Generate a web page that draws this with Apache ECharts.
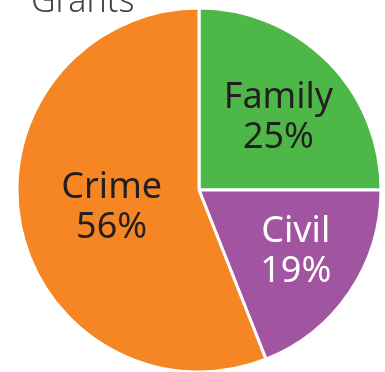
<!DOCTYPE html>
<html>
<head>
<meta charset="utf-8">
<script src="https://cdn.jsdelivr.net/npm/echarts@6/dist/echarts.min.js"></script>
<style>html,body{margin:0;padding:0;background:#fff;}#c{width:385px;height:372px;}</style>
</head>
<body>
<div id="c"></div>
<script>
const titleText = 'Grants';
const categories = ['Family', 'Civil', 'Crime'];
const values = [25, 19, 56];
const colors = ['#4DB848', '#A155A0', '#F58623'];
const labelColors = ['#231F20', '#FFFFFF', '#231F20'];
const labelOffsets = [[13, -6], [19, 9], [5, 0]];

const chart = echarts.init(document.getElementById('c'));
chart.setOption({
  animation: false,
  title: {
    text: titleText,
    left: 26,
    top: -20,
    textStyle: { fontFamily: 'Noto Sans', fontSize: 34, fontWeight: 300, color: '#444' }
  },
  series: [{
    type: 'pie',
    center: [199, 190],
    radius: 182,
    startAngle: 90,
    clockwise: true,
    avoidLabelOverlap: false,
    itemStyle: { borderColor: '#fff', borderWidth: 3 },
    label: {
      position: 'inside',
      fontFamily: 'Noto Sans',
      fontSize: 36,
      lineHeight: 40,
      formatter: p => p.name + '\n' + Math.round(p.percent) + '%'
    },
    labelLine: { show: false },
    emphasis: { disabled: true },
    data: categories.map((c, i) => ({
      name: c,
      value: values[i],
      itemStyle: { color: colors[i] },
      label: { color: labelColors[i], offset: labelOffsets[i] }
    }))
  }]
});
</script>
</body>
</html>
